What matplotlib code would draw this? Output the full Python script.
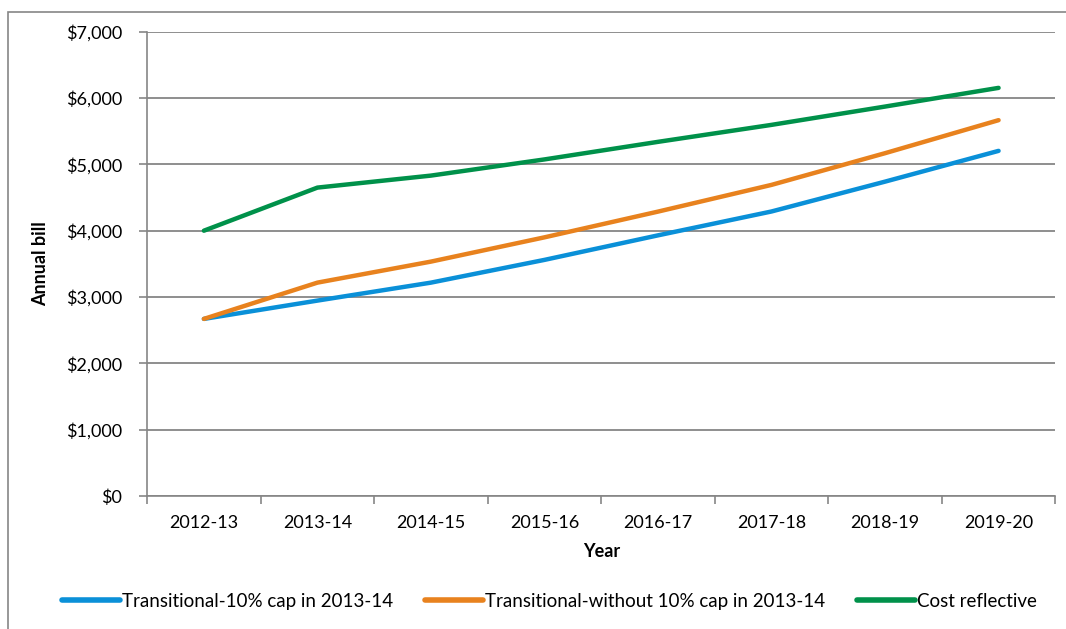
import numpy as np
import matplotlib.pyplot as plt
from matplotlib.ticker import FuncFormatter, FixedLocator
from matplotlib.patches import Rectangle

years=['2012-13','2013-14','2014-15','2015-16','2016-17','2017-18','2018-19','2019-20']
capped=[2670,2946,3217,3560,3930,4290,4740,5204]
uncapped=[2670,3217,3534,3900,4288,4691,5169,5667]
cost_reflective=[4000,4650,4831,5075,5340,5596,5872,6154]

plt.rcParams['font.family']=['Lato','DejaVu Sans']

fig=plt.figure(figsize=(10.66,6.29),dpi=100)
ax=fig.add_axes([0.138,0.2115,0.852,0.738])

x=np.arange(len(years))
ax.plot(x,capped,color='#0A90D8',lw=3.2,solid_capstyle='round',label='Transitional-10% cap in 2013-14')
ax.plot(x,uncapped,color='#E8821E',lw=3.2,solid_capstyle='round',label='Transitional-without 10% cap in 2013-14')
ax.plot(x,cost_reflective,color='#00914A',lw=3.2,solid_capstyle='round',label='Cost reflective')

ax.set_xlim(-0.5,len(years)-0.5)
ax.set_ylim(0,7000)
ax.set_yticks(np.arange(0,7001,1000))
ax.yaxis.set_major_formatter(FuncFormatter(lambda v,p:'${:,.0f}'.format(v)))
ax.set_xticks(x)
ax.set_xticklabels(years)
ax.xaxis.set_minor_locator(FixedLocator(np.arange(-0.5,len(years),1)))
ax.tick_params(axis='x',which='major',length=0,pad=14,labelsize=13)
ax.tick_params(axis='x',which='minor',length=6,color='#868686',width=1.2)
ax.tick_params(axis='y',length=6,color='#868686',width=1.2,labelsize=13,pad=12)
ax.grid(axis='y',color='#868686',lw=1.3)
ax.set_axisbelow(True)
for s in ['top','right']:
    ax.spines[s].set_visible(False)
ax.spines['left'].set_color('#868686')
ax.spines['bottom'].set_color('#868686')
ax.spines['left'].set_linewidth(1.2)
ax.spines['bottom'].set_linewidth(1.2)

ax.set_xlabel('Year',fontsize=13,fontweight='bold',labelpad=8)
ax.set_ylabel('Annual bill',fontsize=13,fontweight='bold',labelpad=12)

leg=fig.legend(loc='center',bbox_to_anchor=(0.515,0.044),ncol=3,frameon=False,fontsize=13.5,
               handlelength=3.1,handletextpad=0.1,columnspacing=1.7)
for h in leg.get_lines():
    h.set_linewidth(4)

fig.patches.append(Rectangle((0.0075,-0.05),1.1,0.931+0.05+0.05,transform=fig.transFigure,fill=False,
                             edgecolor='#868686',lw=1.2,clip_on=False))

plt.savefig('out.png',dpi=100)
